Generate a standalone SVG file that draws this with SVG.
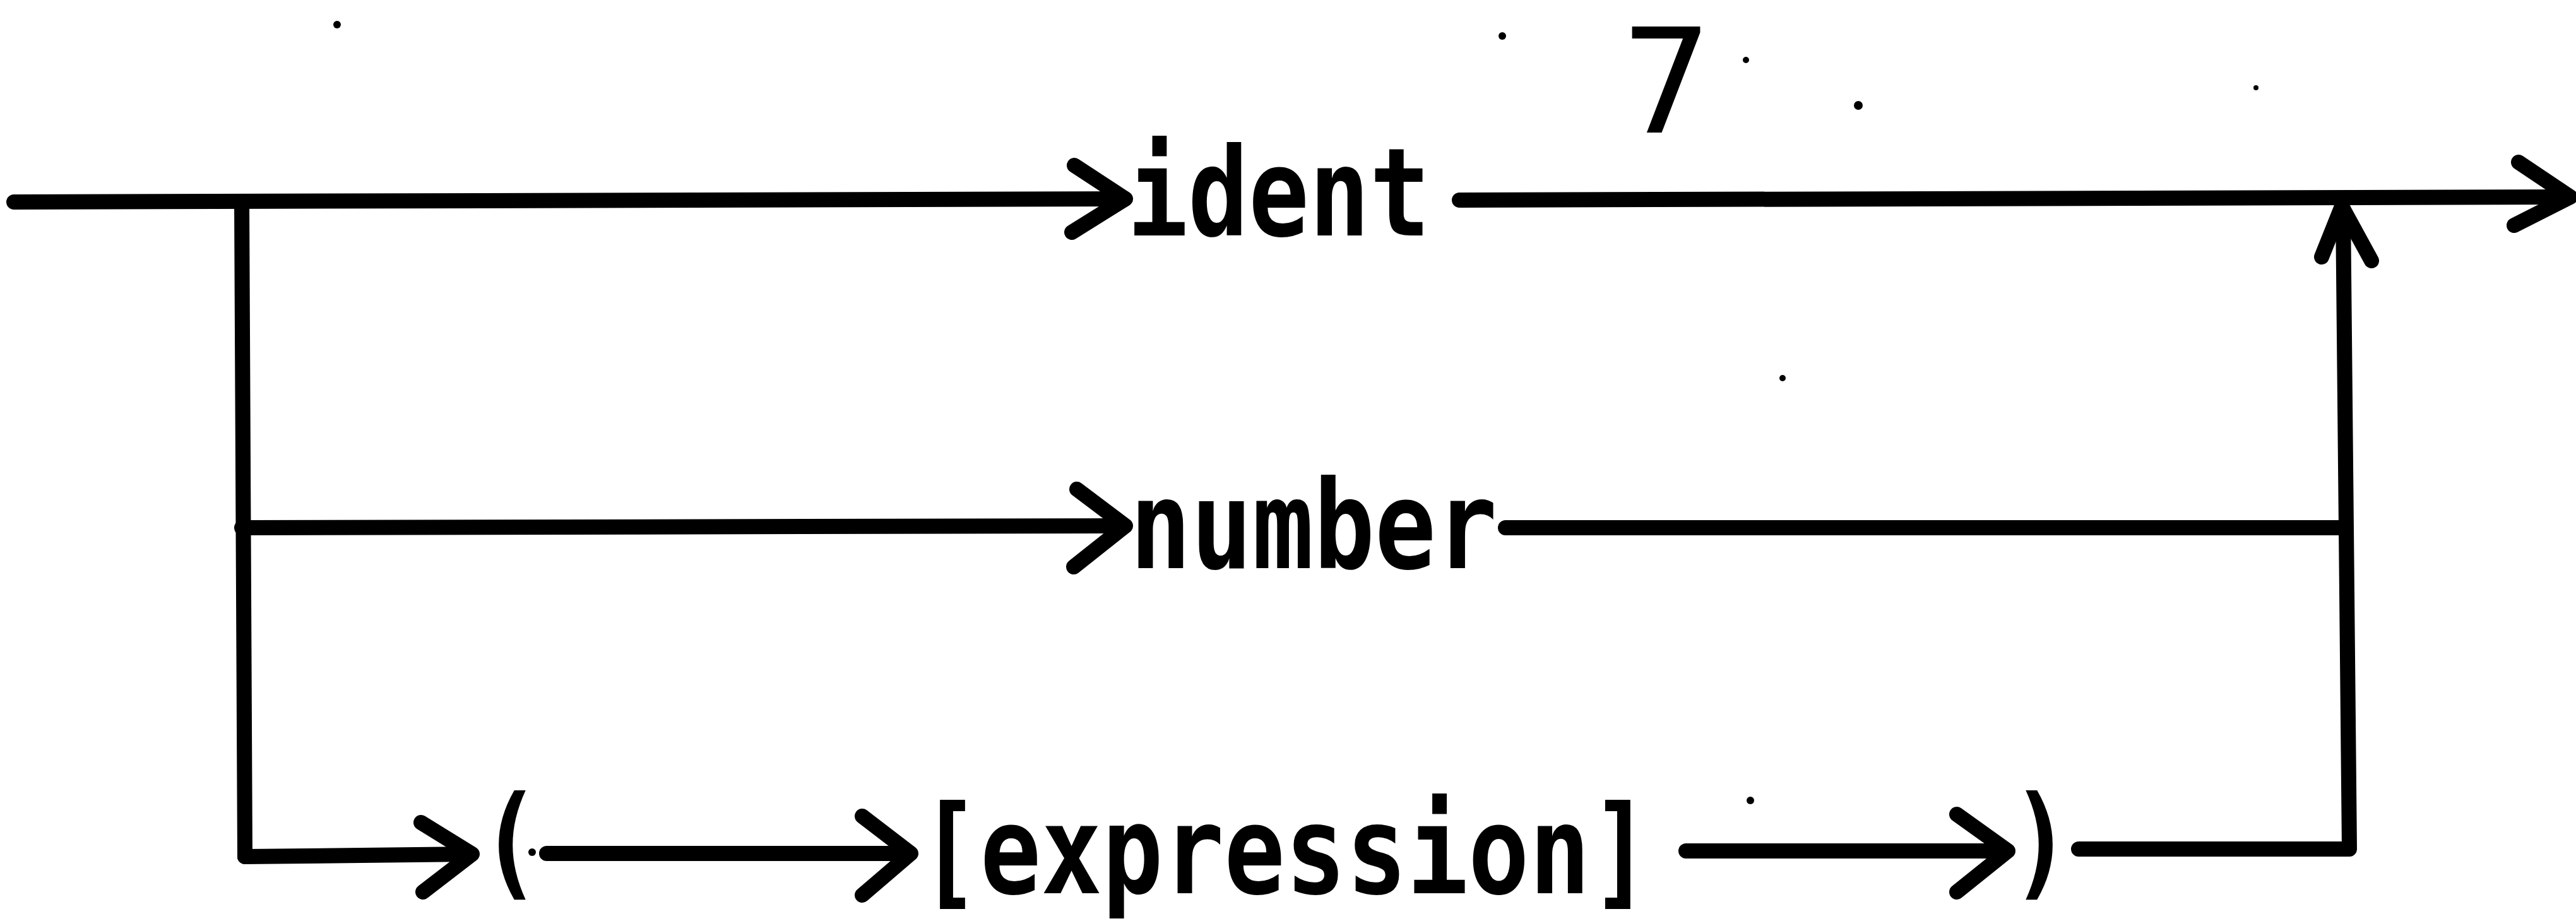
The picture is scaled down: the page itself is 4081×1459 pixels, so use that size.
<svg xmlns="http://www.w3.org/2000/svg" width="4081" height="1459" viewBox="0 0 4081 1459">
<style>
.ln{fill:none;stroke:#000;stroke-width:24;stroke-linecap:round;stroke-linejoin:round}
.lbl{font-family:"DejaVu Sans Mono","Liberation Mono",monospace;font-weight:bold;font-size:195px;fill:#000}
.num{font-family:"DejaVu Sans","Liberation Sans",sans-serif;font-size:230px;fill:#000}
.speck{fill:#000}
</style>
<rect width="4081" height="1459" fill="#fff"/>
<g id="connectors">
<path class="ln" d="M22 320 L1780 315"/>
<path class="ln" d="M1702 262 L1783 315 L1698 368"/>
<path class="ln" d="M2312 317 L4068 312"/>
<path class="ln" d="M3990 257 L4072 312 L3983 357"/>
<path class="ln" d="M383 320 L388 1357"/>
<path class="ln" d="M383 836 L1780 833"/>
<path class="ln" d="M1706 775 L1783 833 L1701 898"/>
<path class="ln" d="M2385 836 L3716 836"/>
<path class="ln" d="M388 1357 L745 1353"/>
<path class="ln" d="M667 1303 L748 1353 L670 1413"/>
<path class="ln" d="M866 1352 L1440 1352"/>
<path class="ln" d="M1366 1293 L1443 1352 L1366 1418"/>
<path class="ln" d="M2671 1348 L3178 1348"/>
<path class="ln" d="M3100 1290 L3181 1348 L3100 1413"/>
<path class="ln" d="M3293 1345 L3722 1345 L3712 330"/>
<path class="ln" d="M3678 407 L3710 327 L3757 413"/>
</g>
<g id="node-ident"><text class="lbl" x="1786" y="373" textLength="480" lengthAdjust="spacingAndGlyphs">ident</text></g>
<g id="node-number"><text class="lbl" x="1790" y="900" textLength="582" lengthAdjust="spacingAndGlyphs">number</text></g>
<g id="node-lparen"><text class="lbl" x="760" y="1400" textLength="97" lengthAdjust="spacingAndGlyphs">(</text></g>
<g id="node-expression"><text class="lbl" x="1456" y="1415" textLength="1160" lengthAdjust="spacingAndGlyphs">[expression]</text></g>
<g id="node-rparen"><text class="lbl" x="3185" y="1400" textLength="97" lengthAdjust="spacingAndGlyphs">)</text></g>
<g id="label-7"><text class="num" x="2640" y="210" text-anchor="middle">7</text></g>
<g id="specks">
<circle class="speck" cx="534" cy="39" r="6"/>
<circle class="speck" cx="2380" cy="57" r="6"/>
<circle class="speck" cx="2766" cy="95" r="5"/>
<circle class="speck" cx="2944" cy="167" r="7"/>
<circle class="speck" cx="3574" cy="139" r="4"/>
<circle class="speck" cx="2824" cy="599" r="5"/>
<circle class="speck" cx="2773" cy="1268" r="6"/>
<circle class="speck" cx="843" cy="1350" r="6"/>
</g>
</svg>
